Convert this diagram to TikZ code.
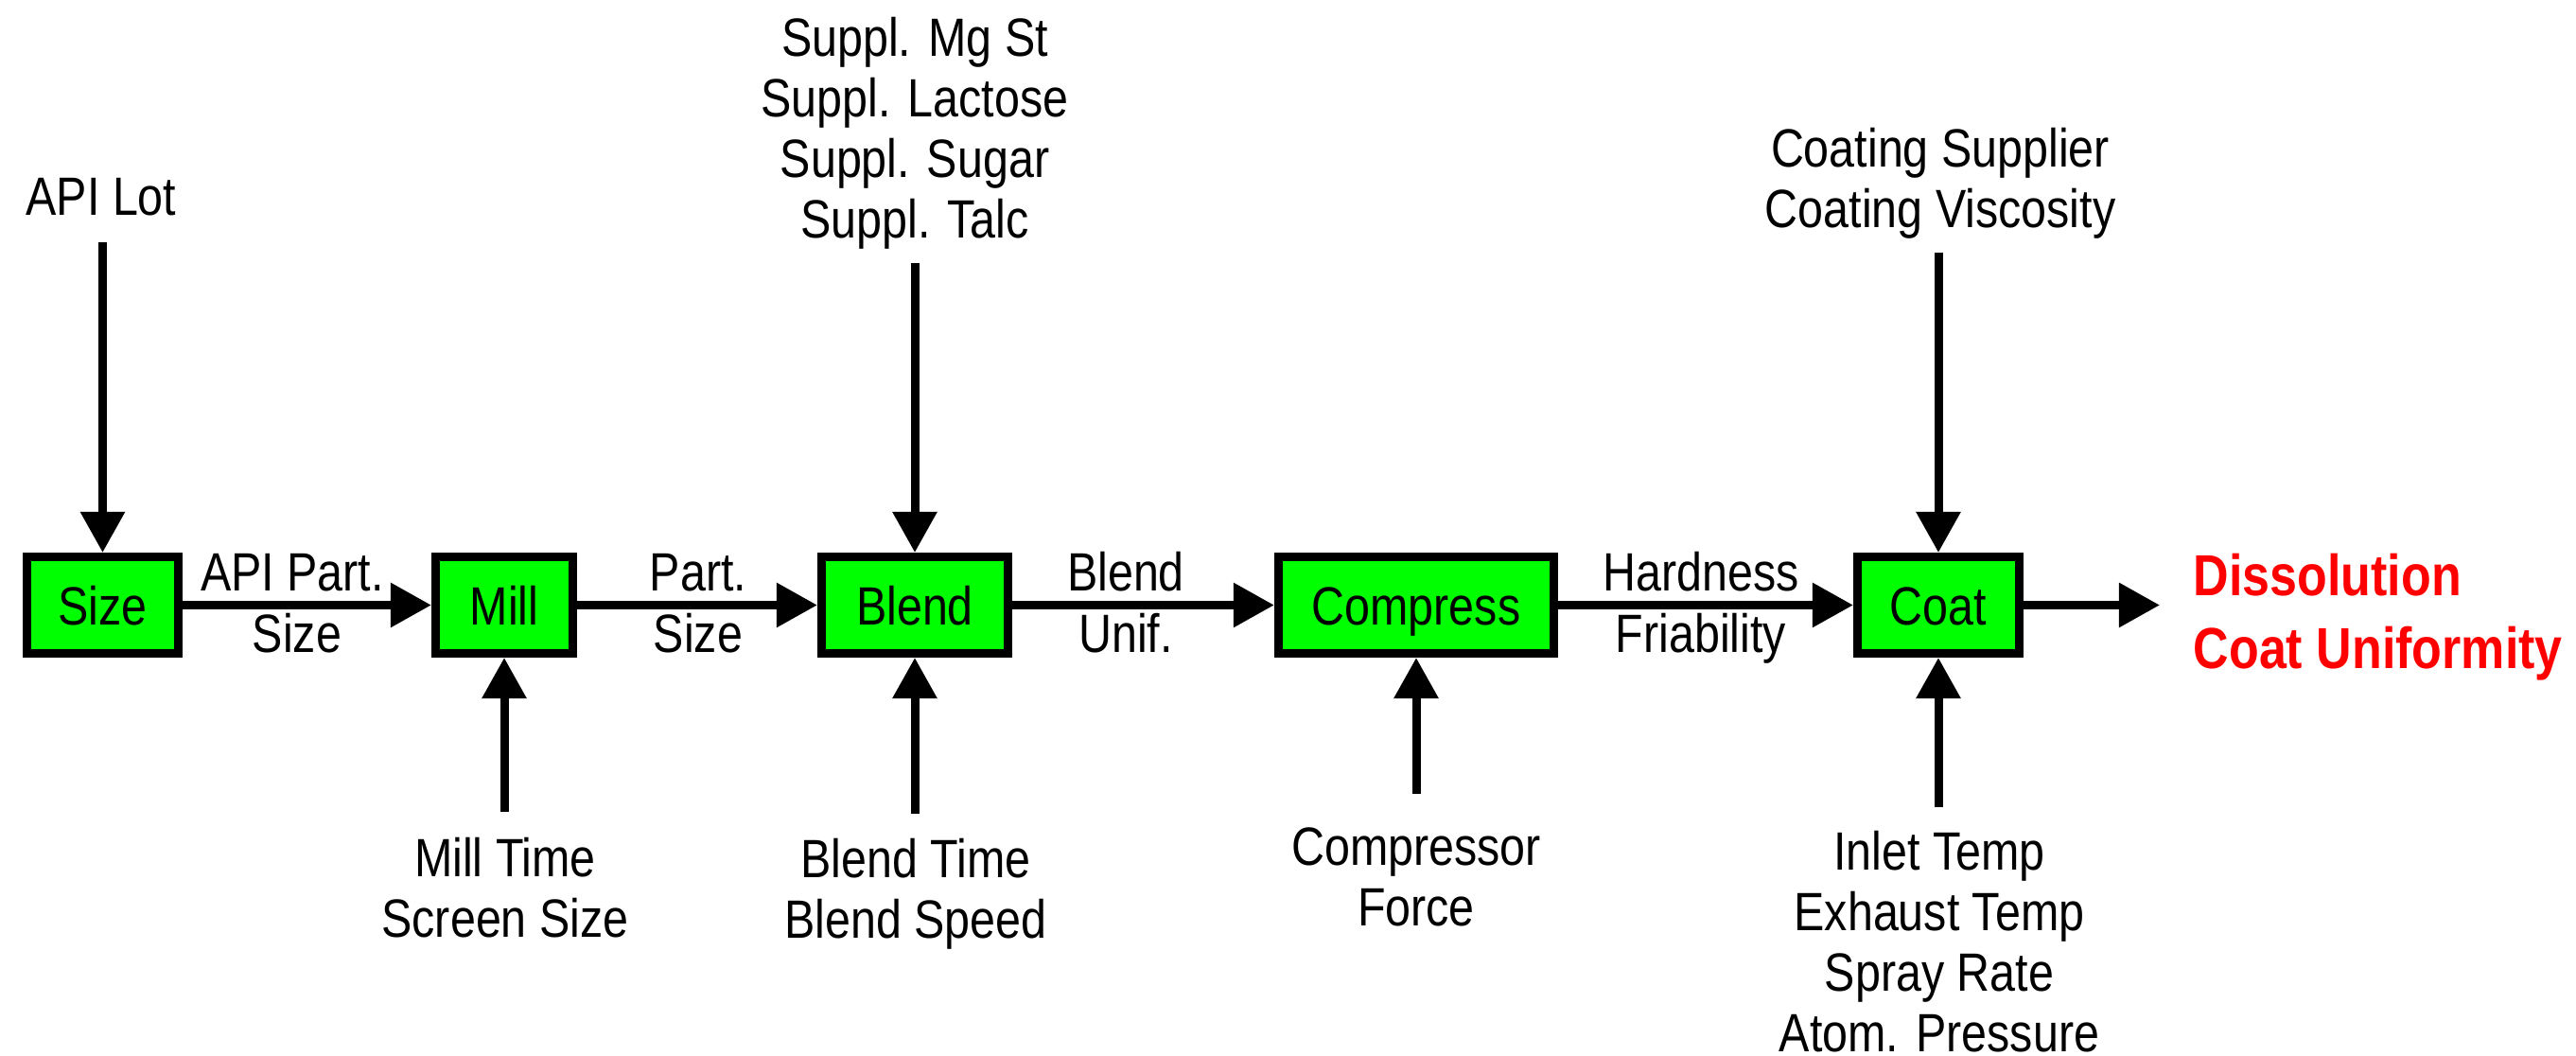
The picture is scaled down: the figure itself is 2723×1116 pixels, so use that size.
\documentclass[tikz,border=0pt]{standalone}
\usepackage{fontspec}
\setmainfont{Liberation Sans}[FakeStretch=0.85]
\usetikzlibrary{arrows.meta}
\definecolor{boxgreen}{HTML}{00FF00}
\definecolor{outred}{HTML}{FF0000}
\begin{document}
\begin{tikzpicture}[x=0.01cm,y=-0.01cm,
  stepbox/.style={draw=black, line width=2.56pt, fill=boxgreen, inner sep=0pt,
    minimum height=1.02cm, text height=0.41cm, text depth=0pt,
    font=\fontsize{16.2}{18.2}\selectfont},
  lbl/.style={inner sep=0pt, align=center, font=\fontsize{16.2}{18.2}\selectfont},
  outlbl/.style={inner sep=0pt, align=left, text=outred,
    font=\fontsize{17.4}{21.9}\selectfont\bfseries},
  flow/.style={line width=2.56pt, -{Triangle[length=0.43cm,width=0.45cm]}},
]
\useasboundingbox (0,0) rectangle (2723,1116);

% process steps
\node[stepbox, minimum width=1.60cm] (size) at (108.5,639.5) {Size};
\node[stepbox, minimum width=1.45cm] (mill) at (533,639.5) {Mill};
\node[stepbox, minimum width=1.97cm] (blend) at (967,639.5) {Blend};
\node[stepbox, minimum width=2.91cm] (compress) at (1497,639.5) {Compress};
\node[stepbox, minimum width=1.71cm] (coat) at (2049,639.5) {Coat};

% main flow
\draw[flow] (size) -- (mill);
\draw[flow] (mill) -- (blend);
\draw[flow] (blend) -- (compress);
\draw[flow] (compress) -- (coat);
\coordinate (outend) at (2283,639.5);
\draw[flow] (coat) -- (outend);

% flow labels
\node[lbl, anchor=base] (l1a) at (309,625) {API Part.};
\node[lbl, anchor=base] (l1b) at (314,690) {Size};
\node[lbl, anchor=base] (l2a) at (738,625) {Part.};
\node[lbl, anchor=base] (l2b) at (738,690) {Size};
\node[lbl, anchor=base] (l3a) at (1190,625) {Blend};
\node[lbl, anchor=base] (l3b) at (1190,690) {Unif.};
\node[lbl, anchor=base] (l4a) at (1798,625) {Hardness};
\node[lbl, anchor=base] (l4b) at (1798,690) {Friability};

% output
\node[outlbl, anchor=north west] (out) at (2318,584) {Dissolution\\Coat Uniformity};

% inputs from above
\node[lbl, anchor=base] (apilot) at (107,228) {API Lot};
\coordinate (t1) at (108.5,256);
\draw[flow] (t1) -- (size.north);

\node[lbl, anchor=north] (suppl) at (967,18) {Suppl. Mg St\\Suppl. Lactose\\Suppl. Sugar\\Suppl. Talc};
\coordinate (t2) at (967,278);
\draw[flow] (t2) -- (blend.north);

\node[lbl, anchor=north] (coating) at (2051,135) {Coating Supplier\\Coating Viscosity};
\coordinate (t3) at (2049,267);
\draw[flow] (t3) -- (coat.north);

% inputs from below
\node[lbl, anchor=north] (millp) at (534,885) {Mill Time\\Screen Size};
\coordinate (b1) at (533,858);
\draw[flow] (b1) -- (mill.south);

\node[lbl, anchor=north] (blendp) at (968,886) {Blend Time\\Blend Speed};
\coordinate (b2) at (967,860);
\draw[flow] (b2) -- (blend.south);

\node[lbl, anchor=north] (compp) at (1497,874) {Compressor\\Force};
\coordinate (b3) at (1497,839);
\draw[flow] (b3) -- (compress.south);

\node[lbl, anchor=north] (coatp) at (2050,878) {Inlet Temp\\Exhaust Temp\\Spray Rate\\Atom. Pressure};
\coordinate (b4) at (2049,853);
\draw[flow] (b4) -- (coat.south);
\end{tikzpicture}
\end{document}
